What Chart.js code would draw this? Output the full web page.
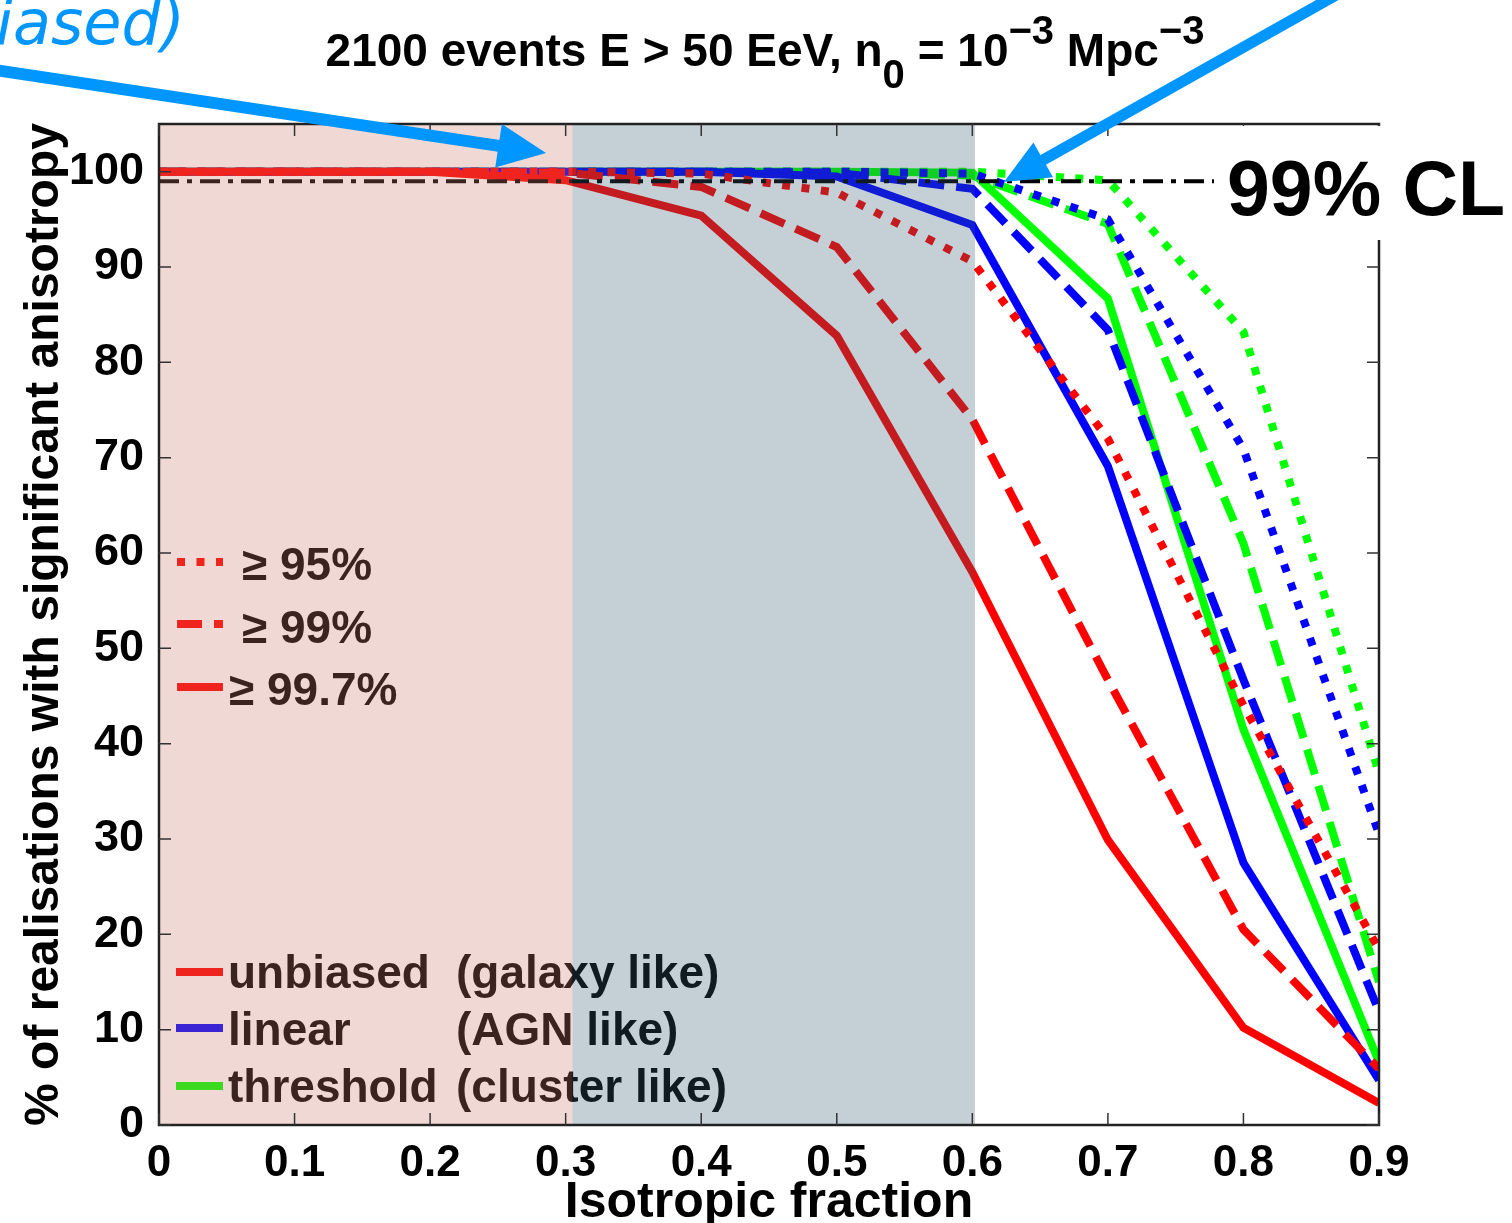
<!DOCTYPE html>
<html><head><meta charset="utf-8">
<script src="https://cdn.jsdelivr.net/npm/chart.js@4.4.0/dist/chart.umd.min.js"></script>
<style>html,body{margin:0;padding:0;background:#fff;overflow:hidden}canvas{display:block}</style>
</head><body>
<canvas id="c" width="1512" height="1223"></canvas>
<script>
// ---------- data ----------
const isoFraction = [0, 0.1, 0.2, 0.3, 0.4, 0.5, 0.6, 0.7, 0.8, 0.9];
const xTickLabels = ['0', '0.1', '0.2', '0.3', '0.4', '0.5', '0.6', '0.7', '0.8', '0.9'];
const yTickLabels = ['0', '10', '20', '30', '40', '50', '60', '70', '80', '90', '100'];

const unbiased95  = [100, 100, 100, 100, 99.8, 97.8, 90.6, 72.0, 44.0, 18.4];
const unbiased99  = [100, 100, 100, 99.9, 98.4, 92.1, 74.0, 46.7, 20.5, 5.9];
const unbiased997 = [100, 100, 100, 99.1, 95.4, 82.8, 58.0, 29.9, 10.2, 2.3];
const linear95    = [100, 100, 100, 100, 100, 100, 99.8, 95.0, 70.9, 30.5];
const linear99    = [100, 100, 100, 100, 100, 99.9, 98.2, 83.4, 46.7, 11.9];
const linear997   = [100, 100, 100, 100, 100, 99.5, 94.4, 69.1, 27.5, 4.7];
const threshold95 = [100, 100, 100, 100, 100, 100, 100, 99.1, 83.2, 36.9];
const threshold99 = [100, 100, 100, 100, 100, 100, 99.6, 94.5, 61.0, 15.0];
const threshold997= [100, 100, 100, 100, 100, 100, 99.9, 86.7, 41.5, 6.6];

const clLevel = 99;
const shadeBounds = [0, 0.305, 0.602];

const confLabels = ['\u2265 95%', '\u2265 99%', '\u2265 99.7%'];
const modelLabels = ['unbiased', 'linear', 'threshold'];
const modelNotes = ['(galaxy like)', '(AGN like)', '(cluster like)'];

// ---------- styles ----------
const FONT = "'Liberation Sans', Arial, Helvetica, sans-serif";
const RED = '#ff0000', BLUE = '#0000ff', GREEN = '#00ff00';
const DOT = [8, 11.5], DASH = [26, 12], SOLID = [];
const LW = 8;

function mk(label, vals, color, dash) {
  return {
    label, data: isoFraction.map((x, i) => ({ x, y: vals[i] })),
    borderColor: color, backgroundColor: color, borderWidth: LW,
    borderDash: dash, borderCapStyle: 'butt', borderJoinStyle: 'miter',
    pointRadius: 0, tension: 0, fill: false
  };
}

const datasets = [
  mk('unbiased 99.7%', unbiased997, RED, SOLID),
  mk('unbiased 99%', unbiased99, RED, DASH),
  mk('unbiased 95%', unbiased95, RED, DOT),
  mk('linear 99.7%', linear997, BLUE, SOLID),
  mk('linear 99%', linear99, BLUE, DASH),
  mk('linear 95%', linear95, BLUE, DOT),
  mk('threshold 99.7%', threshold997, GREEN, SOLID),
  mk('threshold 99%', threshold99, GREEN, DASH),
  mk('threshold 95%', threshold95, GREEN, DOT)
];

function arrow(ctx, x0, y0, x1, y1, w, hl, hw, col) {
  const dx = x1 - x0, dy = y1 - y0, L = Math.hypot(dx, dy);
  const ux = dx / L, uy = dy / L, nx = -uy, ny = ux;
  const bx = x1 - ux * hl, by = y1 - uy * hl;
  ctx.save();
  ctx.strokeStyle = col; ctx.fillStyle = col; ctx.lineWidth = w; ctx.lineCap = 'butt';
  ctx.beginPath(); ctx.moveTo(x0, y0); ctx.lineTo(bx + ux * 2, by + uy * 2); ctx.stroke();
  ctx.beginPath(); ctx.moveTo(x1, y1);
  ctx.lineTo(bx + nx * hw, by + ny * hw); ctx.lineTo(bx - nx * hw, by - ny * hw);
  ctx.closePath(); ctx.fill();
  ctx.restore();
}

const overlay = {
  id: 'overlay',
  afterDatasetsDraw(chart) {
    const ctx = chart.ctx, xs = chart.scales.x, ys = chart.scales.y, ca = chart.chartArea;
    ctx.save();
    // 99% CL dash-dot line
    const yCL = ys.getPixelForValue(clLevel);
    ctx.strokeStyle = '#000'; ctx.lineWidth = 4; ctx.setLineDash([20, 8, 5, 8]);
    ctx.beginPath(); ctx.moveTo(ca.left, yCL); ctx.lineTo(1214, yCL); ctx.stroke();
    ctx.setLineDash([]);

    // legend 1: confidence levels
    const conf = [[DOT, 562, 242, 580], [[25, 12], 624, 242, 643], [SOLID, 687, 229, 705]];
    conf.forEach((c, i) => {
      ctx.strokeStyle = RED; ctx.lineWidth = LW; ctx.setLineDash(c[0]);
      ctx.beginPath(); ctx.moveTo(177, c[1]); ctx.lineTo(223, c[1]); ctx.stroke();
      ctx.setLineDash([]);
      ctx.fillStyle = '#000'; ctx.font = 'bold 46px ' + FONT; ctx.textBaseline = 'alphabetic'; ctx.textAlign = 'left';
      ctx.fillText(confLabels[i], c[2], c[3]);
    });
    // legend 2: models
    const mod = [[RED, 972, 988], [BLUE, 1028, 1045], [GREEN, 1086, 1102]];
    mod.forEach((m, i) => {
      ctx.strokeStyle = m[0]; ctx.lineWidth = LW;
      ctx.beginPath(); ctx.moveTo(176, m[1]); ctx.lineTo(223, m[1]); ctx.stroke();
      ctx.fillStyle = '#000'; ctx.font = 'bold 46px ' + FONT;
      ctx.fillText(modelLabels[i], 228, m[2]);
      ctx.fillText(modelNotes[i], 456, m[2]);
    });

    // shaded regions (drawn over lines & legend)
    const p0 = xs.getPixelForValue(shadeBounds[0]), p1 = xs.getPixelForValue(shadeBounds[1]), p2 = xs.getPixelForValue(shadeBounds[2]);
    ctx.fillStyle = 'rgba(203,124,107,0.29)';
    ctx.fillRect(p0, ca.top, p1 - p0, ca.bottom - ca.top);
    ctx.fillStyle = 'rgba(52,93,110,0.29)';
    ctx.fillRect(p1, ca.top, p2 - p1, ca.bottom - ca.top);

    // frame and inward ticks
    ctx.strokeStyle = '#222'; ctx.lineWidth = 2.5;
    ctx.strokeRect(ca.left, ca.top, ca.right - ca.left, ca.bottom - ca.top);
    ctx.strokeStyle = '#333'; ctx.lineWidth = 1.5;
    ctx.beginPath();
    xs.ticks.forEach(t => {
      const x = xs.getPixelForValue(t.value);
      ctx.moveTo(x, ca.bottom); ctx.lineTo(x, ca.bottom - 12);
      ctx.moveTo(x, ca.top); ctx.lineTo(x, ca.top + 12);
    });
    ys.ticks.forEach(t => {
      const y = ys.getPixelForValue(t.value);
      ctx.moveTo(ca.left, y); ctx.lineTo(ca.left + 12, y);
      ctx.moveTo(ca.right, y); ctx.lineTo(ca.right - 12, y);
    });
    ctx.stroke();

    // 99% CL label box
    ctx.fillStyle = '#fff';
    ctx.fillRect(1216, ca.top + 2, 300, 240 - ca.top - 2);
    ctx.fillStyle = '#000'; ctx.font = 'bold 77px ' + FONT; ctx.textAlign = 'left'; ctx.textBaseline = 'alphabetic';
    ctx.fillText('99% CL', 1227, 215);

    // title with sub/superscripts
    const parts = [
      ['2100 events E > 50 EeV, n', 'bold 46px ' + FONT, 0],
      ['0', 'bold 40px ' + FONT, 22],
      [' = 10', 'bold 46px ' + FONT, 0],
      ['\u22123', 'bold 40px ' + FONT, -22],
      [' Mpc', 'bold 46px ' + FONT, 0],
      ['\u22123', 'bold 40px ' + FONT, -22]
    ];
    let tw = 0;
    parts.forEach(p => { ctx.font = p[1]; p.push(ctx.measureText(p[0]).width); tw += p[3]; });
    let tx = 765 - tw / 2;
    ctx.fillStyle = '#000'; ctx.textAlign = 'left';
    parts.forEach(p => { ctx.font = p[1]; ctx.fillText(p[0], tx, 66 + p[2]); tx += p[3]; });

    // annotation arrows
    arrow(ctx, -5, 70, 546, 153, 12, 48, 22, '#0096ff');
    arrow(ctx, 1338, -6, 1004, 182, 11, 45, 20, '#0096ff');
    // handwritten note (clipped at page edge)
    ctx.fillStyle = '#0096ff'; ctx.font = 'italic 300 62px "DejaVu Sans", ' + FONT;
    ctx.textAlign = 'right'; ctx.textBaseline = 'alphabetic';
    ctx.fillText('(unbiased)', 185, 44);
    ctx.restore();
  }
};

Chart.defaults.font.family = FONT;
Chart.defaults.color = '#000';

new Chart(document.getElementById('c'), {
  type: 'line',
  data: { datasets },
  options: {
    responsive: false, animation: false, devicePixelRatio: 1,
    layout: { padding: { top: 124, right: 133, left: 0, bottom: 0 } },
    plugins: { legend: { display: false }, tooltip: { enabled: false }, title: { display: false } },
    scales: {
      x: {
        type: 'linear', min: 0, max: 0.9,
        afterFit: s => { s.height = 98; },
        grid: { display: false }, border: { display: false },
        ticks: { stepSize: 0.1, padding: 4, font: { size: 44, weight: 'bold' }, color: '#000',
          maxRotation: 0, autoSkip: false,
          callback: v => xTickLabels[Math.round(v * 10)] },
        title: { display: true, text: 'Isotropic fraction', font: { size: 50, weight: 'bold', lineHeight: 0.8 }, color: '#000', padding: { top: 0, bottom: 0 } }
      },
      y: {
        type: 'linear', min: 0, max: 105,
        afterFit: s => { s.width = 159; },
        grid: { display: false }, border: { display: false },
        ticks: { stepSize: 10, includeBounds: false, padding: 7, font: { size: 45, weight: 'bold' }, color: '#000',
          callback: v => yTickLabels[Math.round(v / 10)] },
        title: { display: true, text: '% of realisations with significant anisotropy', font: { size: 48, weight: 'bold' }, color: '#000', padding: { top: 16, bottom: 0 } }
      }
    }
  },
  plugins: [overlay]
});
</script>
</body></html>
